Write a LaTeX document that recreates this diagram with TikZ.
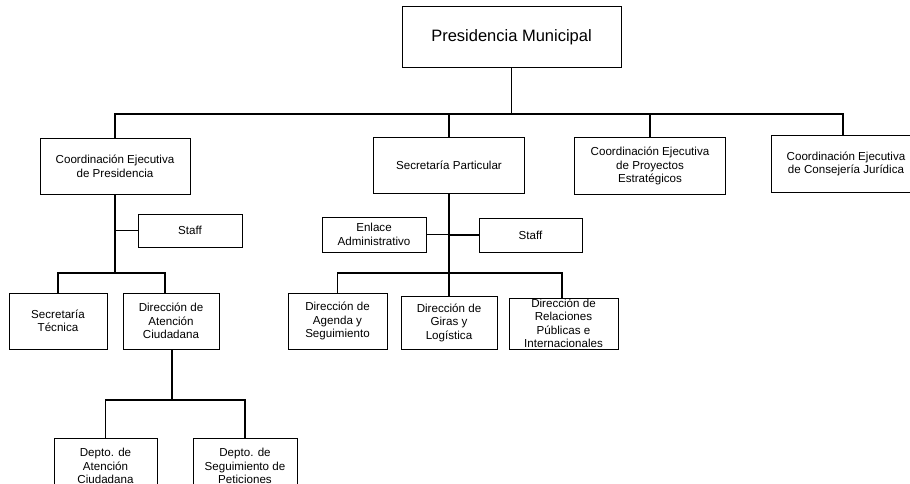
\documentclass[tikz,border=0pt]{standalone}
\usepackage{fontspec}
\setmainfont{Liberation Sans}
\begin{document}
\begin{tikzpicture}[x=1pt,y=-1pt,
  box/.style={draw=black,line width=1pt,fill=white,align=center,inner sep=0pt,
    font=\fontsize{11.6}{13.5}\selectfont},
  conn/.style={draw=black,line width=1.5pt}]
\useasboundingbox[fill=white] (0,0) rectangle (910,484);
\begin{scope}
\clip (0,0) rectangle (910,484);
% nodes
\node[box,minimum width=219pt,minimum height=61pt,font=\fontsize{16.5}{20}\selectfont] (pm) at (511.5,37.5) {Presidencia Municipal};
\node[box,minimum width=150pt,minimum height=55pt] (cep) at (115,166.5) {Coordinación Ejecutiva\\de Presidencia};
\node[box,minimum width=151pt,minimum height=55pt] (sp) at (449,165.5) {Secretaría Particular};
\node[box,minimum width=151pt,minimum height=56pt] (cpe) at (650,166) {Coordinación Ejecutiva\\de Proyectos\\Estratégicos};
\node[box,minimum width=150pt,minimum height=56pt] (ccj) at (846,164) {Coordinación Ejecutiva\\de Consejería Jurídica};
\node[box,minimum width=104pt,minimum height=33pt] (staffa) at (190,230.5) {Staff};
\node[box,minimum width=104pt,minimum height=35pt] (ea) at (374,234.5) {Enlace\\Administrativo};
\node[box,minimum width=103pt,minimum height=34pt] (staffb) at (530.5,235) {Staff};
\node[box,minimum width=98pt,minimum height=56pt] (st) at (58,321) {Secretaría\\Técnica};
\node[box,minimum width=96pt,minimum height=56pt] (dac) at (171,321) {Dirección de\\Atención\\Ciudadana};
\node[box,minimum width=99pt,minimum height=56pt] (das) at (337.5,321) {Dirección de\\Agenda y\\Seguimiento};
\node[box,minimum width=96pt,minimum height=53pt] (dgl) at (449,322.5) {Dirección de\\Giras y\\Logística};
\node[box,minimum width=109pt,minimum height=51pt] (drp) at (563.5,323.5) {Dirección de\\Relaciones\\Públicas e\\Internacionales};
\node[box,minimum width=103pt,minimum height=56pt] (dpac) at (105.5,466) {Depto. de\\Atención\\Ciudadana};
\node[box,minimum width=104pt,minimum height=56pt] (dpsp) at (245,466) {Depto. de\\Seguimiento de\\Peticiones};
% bus coordinates
\coordinate (b1) at (511.5,114);
\coordinate (b2) at (115,273);
\coordinate (b3) at (449,273);
\coordinate (b4) at (172,400);
% top level
\draw[conn] (pm.south) -- (b1);
\draw[conn] (cep.north) |- (b1) -| ([xshift=-3pt]ccj.north);
\draw[conn] (sp.north) -- (sp.north |- b1);
\draw[conn] (cpe.north) -- (cpe.north |- b1);
% left branch
\draw[conn] (cep.south) -- (b2);
\draw[conn] (staffa.west) -- (staffa.west -| cep.south);
\draw[conn] (st.north) |- (b2) -| ([xshift=-6pt]dac.north);
\draw[conn] ([xshift=1pt]dac.south) -- (b4);
\draw[conn] (dpac.north) |- (b4) -| (dpsp.north);
% middle branch
\draw[conn] (sp.south) -- (dgl.north);
\draw[conn] (ea.east) -- (ea.east -| sp.south);
\draw[conn] (staffb.west) -- (staffb.west -| sp.south);
\draw[conn] (das.north) |- (b3) -| ([xshift=-1.5pt]drp.north);
\end{scope}
\end{tikzpicture}
\end{document}
